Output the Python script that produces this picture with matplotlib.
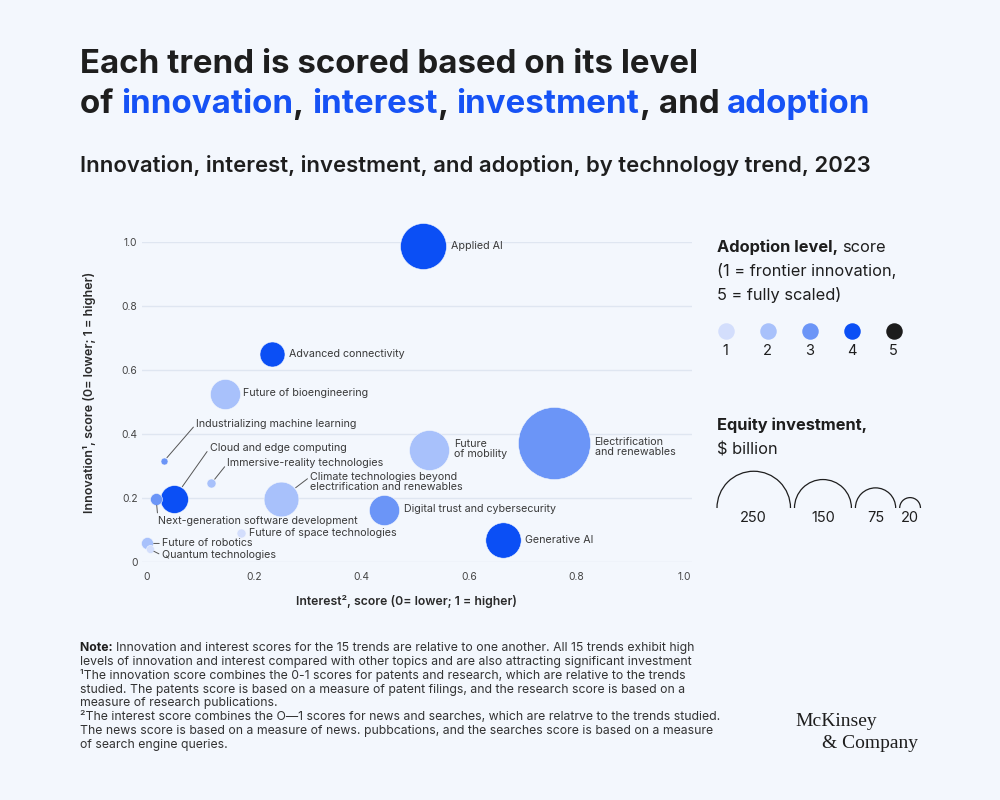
import matplotlib.pyplot as plt
from matplotlib.patches import Arc

plt.rcParams['font.family'] = ['Inter', 'DejaVu Sans']

W, H = 1000, 800
BG = '#f3f7fd'
INK = '#1e1e1e'
GREY = '#3a3a3a'
BLUE = '#1652f5'
GRID = '#dfe6f1'
LEVEL_COLORS = {1: '#d3defc', 2: '#a8c1fb', 3: '#6b95f7', 4: '#0b4ff5', 5: '#1c1c1c'}

# data
trends = ["Applied AI", "Advanced connectivity", "Future of bioengineering",
          "Industrializing machine learning", "Cloud and edge computing",
          "Next-generation software development", "Immersive-reality technologies",
          "Climate technologies beyond\nelectrification and renewables",
          "Digital trust and cybersecurity", "Future of space technologies",
          "Future of robotics", "Quantum technologies", "Future\nof mobility",
          "Electrification\nand renewables", "Generative AI"]
interest = [0.514, 0.233, 0.145, 0.032, 0.050, 0.017, 0.120, 0.250,
            0.441, 0.175, 0.0, 0.005, 0.526, 0.757, 0.663]
innovation = [0.988, 0.649, 0.526, 0.316, 0.198, 0.198, 0.246, 0.198,
              0.163, 0.092, 0.058, 0.040, 0.350, 0.371, 0.069]
adoption = [4, 4, 2, 3, 4, 3, 2, 2, 3, 1, 2, 1, 2, 3, 4]
investment = [98, 29, 42, 2.3, 36, 6.7, 3.8, 56, 42, 3.8, 6.7, 3.0, 74, 241, 58]

adoption_levels = [1, 2, 3, 4, 5]
legend_investment = [250, 150, 75, 20]
ticks = [0, 0.2, 0.4, 0.6, 0.8, 1.0]
tick_labels = ["0", "0.2", "0.4", "0.6", "0.8", "1.0"]

# label placement: offset in pixels from bubble centre, leader line or not
label_layout = [(28, 0, False), (17, 0, False), (18, 1, False), (32, 37, True),
                (36, 51, True), (2, -22, True), (16, 20, True), (29, 17, True),
                (20, 1, False), (8, 0, False), (15, 0, True), (12, -6, True),
                (25, 1, False), (41, -4, False), (22, 0, False)]

INV_TO_AREA = 11.2  # scatter area (pt^2) per $ billion

fig = plt.figure(figsize=(10, 8), dpi=100, facecolor=BG)
renderer = fig.canvas.get_renderer()


def fx(x):
    return x / W


def fy(y):
    return 1 - y / H


def seg_width(s, **kw):
    t = fig.text(0, 0, s + '|', **kw)
    w = t.get_window_extent(renderer).width
    t.remove()
    t = fig.text(0, 0, '|', **kw)
    w -= t.get_window_extent(renderer).width
    t.remove()
    return w


def runs(x, y, parts, size, va='baseline'):
    for s, color, weight in parts:
        kw = dict(fontsize=size, fontweight=weight)
        fig.text(fx(x), fy(y), s, color=color, ha='left', va=va, **kw)
        x += seg_width(s, **kw)


# titles
runs(80, 73, [("Each trend is scored based on its level", INK, 'bold')], 23.8)
runs(80, 113, [("of ", INK, 'bold'), ("innovation", BLUE, 'bold'), (", ", INK, 'bold'),
               ("interest", BLUE, 'bold'), (", ", INK, 'bold'),
               ("investment", BLUE, 'bold'), (", and ", INK, 'bold'),
               ("adoption", BLUE, 'bold')], 23.8)
runs(80, 172, [("Innovation, interest, investment, and adoption, by technology trend, 2023",
                INK, 'semibold')], 15.9)

# main scatter
x0 = 141.7
ax = fig.add_axes([fx(x0), fy(562), 550 / W, 320 / H])
ax.set_facecolor(BG)
ax.set_xlim(-(147 - x0) / 537, -(147 - x0) / 537 + 550 / 537)
ax.set_ylim(0, 1)
for s in ax.spines.values():
    s.set_visible(False)
ax.set_xticks(ticks, tick_labels)
ax.set_yticks(ticks, tick_labels)
ax.tick_params(length=0, labelsize=7.4, labelcolor='#444444')
ax.tick_params(axis='y', pad=3)
ax.tick_params(axis='x', pad=7)
ax.grid(axis='y', color=GRID, lw=1)
ax.set_axisbelow(True)

order = sorted(range(len(trends)), key=lambda i: -investment[i])
for i in order:
    ax.scatter(interest[i], innovation[i], s=investment[i] * INV_TO_AREA,
               color=LEVEL_COLORS[adoption[i]], edgecolor=BG, lw=0.4,
               clip_on=False, zorder=3)

for i, name in enumerate(trends):
    dx, dy, leader = label_layout[i]
    r_pt = (investment[i] * INV_TO_AREA) ** 0.5 / 2
    props = None
    if leader:
        props = dict(arrowstyle='-', color='#555555', lw=0.7, shrinkA=0,
                     shrinkB=r_pt + 0.5, relpos=(0, 0.75 if '\n' in name else 0.5))
    ax.annotate(name, (interest[i], innovation[i]), xytext=(dx, dy),
                textcoords='offset pixels', ha='left', va='center',
                fontsize=7.7, color=GREY, linespacing=1.0,
                arrowprops=props, zorder=4, annotation_clip=False)

fig.text(fx(90), fy(392), "Innovation\u00b9, score (0= lower; 1 = higher)", rotation=90,
         ha='center', va='center', fontsize=9, fontweight='semibold', color='#2a2a2a')
fig.text(fx(406), fy(602), "Interest\u00b2, score (0= lower; 1 = higher)",
         ha='center', va='center', fontsize=8.8, fontweight='semibold', color='#2a2a2a')

# legends, drawn on an overlay in pixel units
ov = fig.add_axes([0, 0, 1, 1], facecolor='none')
ov.set_xlim(0, W)
ov.set_ylim(H, 0)
ov.axis('off')

runs(717, 252, [("Adoption level, ", INK, 'bold'), ("score", INK, 'normal')], 11.8)
runs(717, 276, [("(1 = frontier innovation,", INK, 'normal')], 11.8)
runs(717, 300, [("5 = fully scaled)", INK, 'normal')], 11.8)
for k, lvl in enumerate(adoption_levels):
    cx = 725.7 + 42 * k
    ov.scatter(cx, 330.5, s=(16.5 * 0.72) ** 2, color=LEVEL_COLORS[lvl], lw=0)
    ov.text(cx, 351, str(lvl), ha='center', va='center', fontsize=10.5, color=INK)

runs(717, 430, [("Equity investment,", INK, 'bold')], 11.8)
runs(717, 454, [("$ billion", INK, 'normal')], 11.8)
cx = 717.0
prev_r = 0
for v in legend_investment:
    r = (v * INV_TO_AREA) ** 0.5 / 2 / 0.72
    cx += prev_r + r + (4 if prev_r else 0)
    # y axis of the overlay points down, so the upper half is 180..360
    ov.add_patch(Arc((cx, 508), 2 * r, 2 * r, theta1=180, theta2=360,
                     color=INK, lw=0.9))
    ov.text(cx, 518, str(v), ha='center', va='center', fontsize=10.5, color=INK)
    prev_r = r

# notes
note_lines = [
    "Innovation and interest scores for the 15 trends are relative to one another. All 15 trends exhibit high",
    "levels of innovation and interest compared with other topics and are also attracting significant investment",
    "\u00b9The innovation score combines the 0-1 scores for patents and research, which are relative to the trends",
    "studied. The patents score is based on a measure of patent filings, and the research score is based on a",
    "measure of research publications.",
    "\u00b2The interest score combines the O\u20141 scores for news and searches, which are relatrve to the trends studied.",
    "The news score is based on a measure of news. pubbcations, and the searches score is based on a measure",
    "of search engine queries.",
]
for k, line in enumerate(note_lines):
    y = 648 + 13.85 * k
    if k == 0:
        runs(80, y, [("Note: ", INK, 'bold'), (line, '#333333', 'normal')], 8.8, va='center')
    else:
        runs(80, y, [(line, '#333333', 'normal')], 8.8, va='center')

fig.text(fx(795), fy(722), "McKinsey", fontsize=14, family='Liberation Serif',
         color=INK, ha='left', va='center')
fig.text(fx(822), fy(744), "& Company", fontsize=14, family='Liberation Serif',
         color=INK, ha='left', va='center')

fig.savefig('out.png', dpi=100, facecolor=BG)
